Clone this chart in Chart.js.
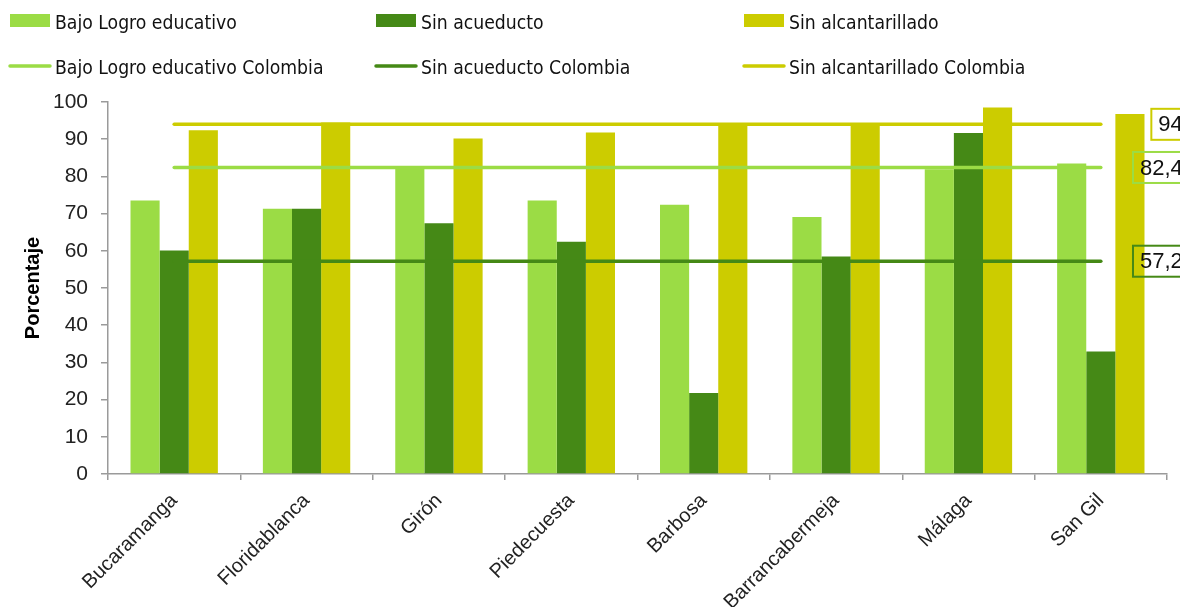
<!DOCTYPE html>
<html>
<head>
<meta charset="utf-8">
<script src="https://cdn.jsdelivr.net/npm/chart.js@4.4.0/dist/chart.umd.min.js"></script>
<style>
  html, body { margin: 0; padding: 0; background: #fff; }
  #wrap { width: 1180px; height: 607px; }
</style>
</head>
<body>
<div id="wrap"><canvas id="chart" width="1180" height="607"></canvas></div>
<script>
'use strict'

const municipios = ['Bucaramanga', 'Floridablanca', 'Girón', 'Piedecuesta', 'Barbosa', 'Barrancabermeja', 'Málaga', 'San Gil']

const bajoLogro = [73.5, 71.3, 82.8, 73.5, 72.4, 69.1, 81.9, 83.5]
const sinAcueducto = [60.1, 71.3, 67.4, 62.4, 21.8, 58.5, 91.7, 32.9]
const sinAlcantarillado = [92.4, 94.5, 90.2, 91.8, 93.6, 93.9, 98.5, 96.8]

// valores nacionales (lineas de referencia)
const bajoLogroColombia = 82.4
const sinAcueductoColombia = 57.2
const sinAlcantarilladoColombia = 94

const yTicks = [0, 10, 20, 30, 40, 50, 60, 70, 80, 90, 100]

const verdeClaro = '#9bdc45'
const verdeOscuro = '#458916'
const amarillo = '#cccc00'
const gris = '#9a9a9a'

const constante = (v) => municipios.map(() => v)
const fmt = (v) => String(v).replace('.', ',')

const data = {
  labels: municipios,
  datasets: [
    { type: 'bar', label: 'Bajo Logro educativo', data: bajoLogro, backgroundColor: verdeClaro, order: 2 },
    { type: 'bar', label: 'Sin acueducto', data: sinAcueducto, backgroundColor: verdeOscuro, order: 2 },
    { type: 'bar', label: 'Sin alcantarillado', data: sinAlcantarillado, backgroundColor: amarillo, order: 2 },
    { type: 'line', label: 'Bajo Logro educativo Colombia', data: constante(bajoLogroColombia), borderColor: verdeClaro, order: 1 },
    { type: 'line', label: 'Sin acueducto Colombia', data: constante(sinAcueductoColombia), borderColor: verdeOscuro, order: 1 },
    { type: 'line', label: 'Sin alcantarillado Colombia', data: constante(sinAlcantarilladoColombia), borderColor: amarillo, order: 1 },
  ],
}

data.datasets.forEach((ds) => {
  if (ds.type === 'line') {
    ds.borderWidth = 3.5
    ds.pointRadius = 0
    ds.borderCapStyle = 'round'
    ds.fill = false
  } else {
    ds.barPercentage = 1
    ds.categoryPercentage = 0.66
  }
})

// leyenda en dos filas y tres columnas, como en el original
const legendPlugin = {
  id: 'legendPlugin',
  afterDraw(chart) {
    const ctx = chart.ctx
    const cols = [10, 376, 744]
    ctx.save()
    ctx.font = '20px "DejaVu Sans Condensed", "DejaVu Sans", sans-serif'
    ctx.textBaseline = 'alphabetic'
    chart.data.datasets.forEach((ds, i) => {
      const x = cols[i % 3]
      const row = ds.type === 'bar' ? 0 : 1
      if (row === 0) {
        ctx.fillStyle = ds.backgroundColor
        ctx.fillRect(x, 14, 40, 13)
      } else {
        ctx.strokeStyle = ds.borderColor
        ctx.lineWidth = 3.5
        ctx.lineCap = 'round'
        ctx.beginPath()
        ctx.moveTo(x, 66)
        ctx.lineTo(x + 40, 66)
        ctx.stroke()
      }
      // texto algo condensado, como la fuente del original
      ctx.save()
      ctx.translate(x + 45, row === 0 ? 28.5 : 74)
      ctx.scale(0.96, 1)
      ctx.fillStyle = '#111'
      ctx.fillText(ds.label, 0, 0)
      ctx.restore()
    })
    ctx.restore()
  },
}

// etiquetas con el valor nacional al final de cada linea
const lineLabels = {
  id: 'lineLabels',
  afterDatasetsDraw(chart) {
    const ctx = chart.ctx
    chart.data.datasets.forEach((ds, i) => {
      if (ds.type !== 'line') return
      const meta = chart.getDatasetMeta(i)
      const pt = meta.data[meta.data.length - 1]
      const text = fmt(ds.data[ds.data.length - 1])
      ctx.save()
      ctx.font = '22px "Liberation Sans", Arial, sans-serif'
      const w = ctx.measureText(text).width
      const right = pt.x + 82
      const h = 31
      ctx.strokeStyle = ds.borderColor
      ctx.lineWidth = 2
      ctx.strokeRect(right - w - 7, pt.y - h / 2, w + 16, h)
      ctx.fillStyle = '#111'
      ctx.textAlign = 'right'
      ctx.textBaseline = 'middle'
      ctx.fillText(text, right, pt.y + 1)
      ctx.restore()
    })
  },
}

const config = {
  data: data,
  options: {
    responsive: false,
    animation: false,
    layout: { padding: { top: 102, right: 13, left: 0, bottom: 0 } },
    plugins: { legend: { display: false }, tooltip: { enabled: false } },
    scales: {
      x: {
        grid: { display: true, drawOnChartArea: false, offset: true, color: gris, tickLength: 6, lineWidth: 1.5 },
        border: { color: gris, width: 1.5 },
        ticks: {
          color: '#222',
          font: { family: '"Liberation Sans", Arial, sans-serif', size: 20 },
          minRotation: 45,
          maxRotation: 45,
          padding: 9,
        },
        afterFit: (s) => { s.height = 133 },
      },
      y: {
        min: 0,
        max: 100,
        afterBuildTicks: (s) => { s.ticks = yTicks.map((v) => ({ value: v })) },
        grid: { display: true, drawOnChartArea: false, color: gris, tickLength: 7, lineWidth: 1.5 },
        border: { color: gris, width: 1.5 },
        ticks: {
          color: '#222',
          font: { family: '"Liberation Sans", Arial, sans-serif', size: 21 },
          padding: 13,
        },
        title: {
          display: true,
          text: 'Porcentaje',
          color: '#000',
          font: { family: '"Liberation Sans", Arial, sans-serif', size: 20, weight: 'bold' },
          padding: { top: 21, bottom: 0 },
        },
        afterFit: (s) => { s.width = 108 },
      },
    },
  },
  plugins: [legendPlugin, lineLabels],
}

const myChart = new Chart(document.getElementById('chart'), config)
</script>
</body>
</html>
